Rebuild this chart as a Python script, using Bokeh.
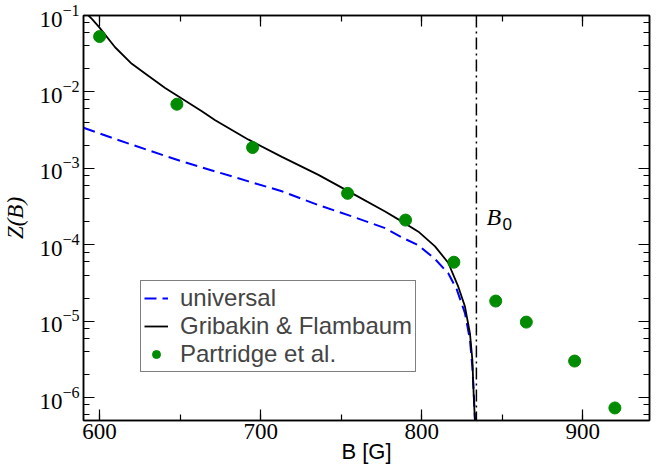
from bokeh.plotting import figure
from bokeh.models import (Range1d, LinearAxis, LogAxis, Label, Legend, LegendItem,
                          Span, SingleIntervalTicker, LogTicker, CustomJSTickFormatter)
from bokeh.embed import file_html
from bokeh.resources import INLINE

# ---- data ----
B_gf = [593.1, 595.2, 599.7, 609.6, 620, 630.4, 640.7, 651, 663.5, 671.8, 692.5,
        713.2, 735.9, 756.6, 777.3, 787.6, 798, 808.3, 816.5, 822.8, 826.9, 830,
        831.5, 832.3, 833.6]
Z_gf = [0.100, 0.0905, 0.0705, 0.0384, 0.0233, 0.0161, 0.01128, 0.00817, 0.00558,
        0.00425, 0.00237, 0.00141, 0.00082, 0.000473, 0.000272, 0.000202, 0.000148,
        0.000095, 0.000058, 0.000028, 0.0000155, 6.9e-6, 3.1e-6, 1.1e-6, 3e-7]

B_univ = [590, 609.7, 630.4, 651.1, 671.8, 692.5, 713.2, 735.9, 756.6, 777.3,
          787.6, 798, 808.3, 816.6, 821.8, 826.9, 830, 831.5, 832.5, 833.6]
Z_univ = [3.4e-3, 2.42e-3, 1.72e-3, 1.23e-3, 9.1e-4, 6.75e-4, 5.0e-4, 3.3e-4,
          2.35e-4, 1.65e-4, 1.25e-4, 9.8e-5, 6.5e-5, 4.2e-5, 2.6e-5, 1.27e-5,
          5.7e-6, 2.5e-6, 1.0e-6, 3e-7]

B_exp = [600, 648, 695, 754, 790, 820, 846, 865, 895, 920]
Z_exp = [5.3e-2, 6.9e-3, 1.87e-3, 4.7e-4, 2.1e-4, 5.9e-5, 1.83e-5, 9.7e-6, 3.0e-6, 7.3e-7]

B0 = 834
x_start, x_end = 590, 941.5
y_start, y_end = 5e-7, 0.1

labels = ["universal", "Gribakin & Flambaum", "Partridge et al."]

SERIF = "Liberation Serif"
SANS = "Liberation Sans"

p = figure(frame_width=566, frame_height=405, x_range=Range1d(x_start, x_end),
           y_range=Range1d(y_start, y_end), y_axis_type="log",
           output_backend="svg", toolbar_location=None,
           min_border_left=74, min_border_right=2, min_border_top=15,
           min_border_bottom=48)
p.grid.visible = False
p.outline_line_color = "black"
p.outline_line_width = 1.5
p.background_fill_color = "white"
p.border_fill_color = "white"

bottom = p.below[0]
left = p.left[0]
bottom.ticker = SingleIntervalTicker(interval=100, num_minor_ticks=2)
left.ticker = LogTicker(desired_num_ticks=6)

blank = CustomJSTickFormatter(code="return ''")
top = LinearAxis(ticker=SingleIntervalTicker(interval=100, num_minor_ticks=2),
                 formatter=blank)
right = LogAxis(ticker=LogTicker(desired_num_ticks=6), formatter=blank)
p.add_layout(top, "above")
p.add_layout(right, "right")

for ax in [bottom, left, top, right]:
    ax.axis_line_color = "black"
    ax.axis_line_width = 1.5
    ax.major_tick_in = 11
    ax.major_tick_out = 0
    ax.minor_tick_in = 6
    ax.minor_tick_out = 0
    ax.major_tick_line_color = "black"
    ax.minor_tick_line_color = "black"
    ax.major_tick_line_width = 1.2
    ax.minor_tick_line_width = 1.2
    ax.major_label_text_font = SERIF
    ax.major_label_text_font_size = "23px"
    ax.major_label_text_color = "black"

for ax in [top, right]:
    ax.major_label_standoff = 0
    ax.major_label_text_font_size = "1px"

bottom.major_label_standoff = 3
bottom.axis_label = "B [G]"
bottom.axis_label_text_font = SANS
bottom.axis_label_text_font_style = "normal"
bottom.axis_label_text_font_size = "22px"
bottom.axis_label_text_color = "black"
bottom.axis_label_standoff = -3

left.major_label_standoff = 4
left.axis_label = "Z(B)"
left.axis_label_text_font = SERIF
left.axis_label_text_font_style = "italic"
left.axis_label_text_font_size = "23px"
left.axis_label_text_color = "black"
left.axis_label_standoff = 8

r_u = p.line(B_univ, Z_univ, line_color="#0000ff", line_width=2, line_dash="12 6")
r_g = p.line(B_gf, Z_gf, line_color="black", line_width=1.8)
r_e = p.scatter(B_exp, Z_exp, size=12, fill_color="#008b00", line_color="#008b00")

p.add_layout(Span(location=B0, dimension="height", line_color="black",
                  line_width=1.5, line_dash="12 4 2 4"))

legend = Legend(items=[LegendItem(label=labels[0], renderers=[r_u]),
                       LegendItem(label=labels[1], renderers=[r_g]),
                       LegendItem(label=labels[2], renderers=[r_e])],
                location=(57, 48))
legend.label_text_font = SANS
legend.label_text_font_size = "24px"
legend.glyph_width = 24
legend.glyph_height = 20
legend.label_standoff = 12
legend.label_height = 22
legend.padding = 3
legend.spacing = 0
legend.margin = 0
legend.border_line_color = "black"
legend.border_line_width = 1
legend.background_fill_alpha = 1
p.add_layout(legend)

# B0 label
p.add_layout(Label(x=B0, y=2.3e-4, x_offset=10, text="B", text_font=SERIF,
                   text_font_style="italic", text_font_size="24px",
                   text_color="black", text_baseline="alphabetic"))
p.add_layout(Label(x=B0, y=1.85e-4, x_offset=26, text="0", text_font=SANS,
                   text_font_size="17px", text_color="black",
                   text_baseline="alphabetic"))

open("out.html", "w").write(file_html(p, INLINE))
